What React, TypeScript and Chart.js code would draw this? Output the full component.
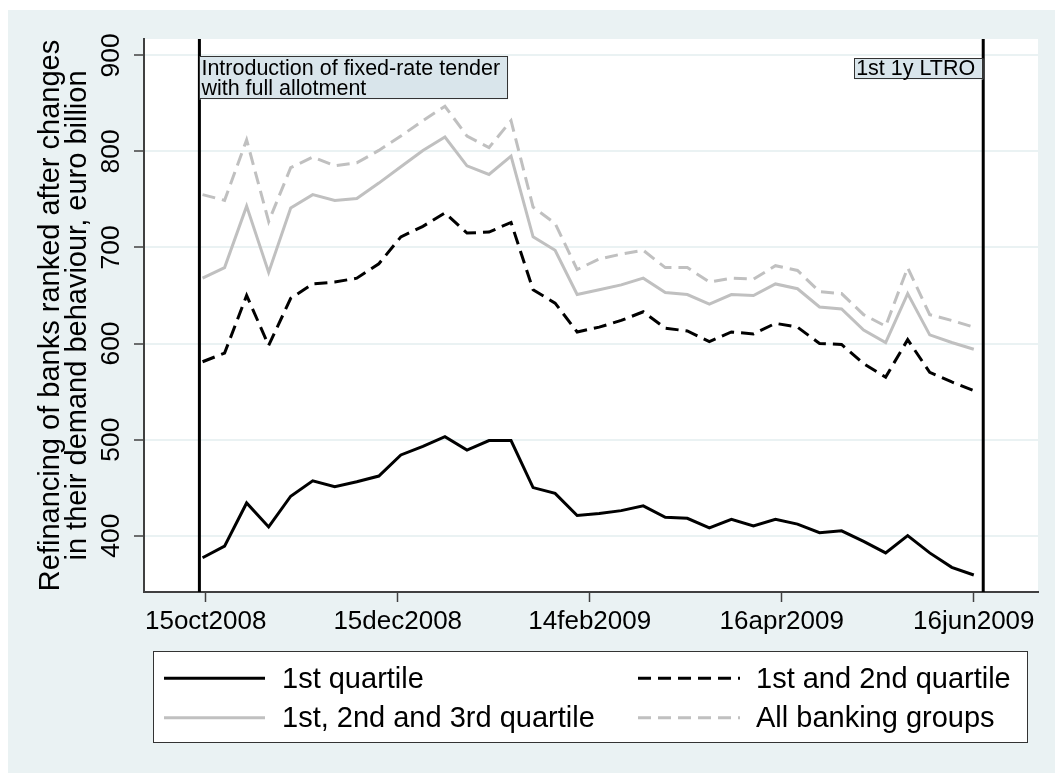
import React, { useEffect, useRef } from 'react';
import { Chart, registerables } from 'chart.js';

Chart.register(...registerables);

// ---------------- data ----------------
const DATES = [
  '2008-10-14', '2008-10-21', '2008-10-28',
  '2008-11-04', '2008-11-11', '2008-11-18', '2008-11-25',
  '2008-12-02', '2008-12-09', '2008-12-16', '2008-12-23', '2008-12-30',
  '2009-01-06', '2009-01-13', '2009-01-20', '2009-01-27',
  '2009-02-03', '2009-02-10', '2009-02-17', '2009-02-24',
  '2009-03-03', '2009-03-10', '2009-03-17', '2009-03-24', '2009-03-31',
  '2009-04-07', '2009-04-14', '2009-04-21', '2009-04-28',
  '2009-05-05', '2009-05-12', '2009-05-19', '2009-05-26',
  '2009-06-02', '2009-06-09', '2009-06-16',
];

const Q1 = [377, 389, 434, 409, 441, 457, 451, 456, 462, 484, 493, 503, 489, 499, 499, 450, 444, 421, 423, 426, 431, 419, 418, 408, 417, 410, 417, 412, 403, 405, 394, 382, 400, 382, 367, 359];
const Q12 = [581, 590, 650, 598, 647, 662, 664, 668, 683, 711, 722, 736, 715, 716, 726, 656, 642, 612, 617, 624, 633, 616, 613, 602, 612, 610, 621, 617, 600, 599, 579, 565, 604, 570, 560, 551];
const Q123 = [668, 679, 743, 674, 741, 755, 749, 751, 767, 784, 801, 815, 785, 776, 795, 711, 697, 651, 656, 661, 668, 653, 651, 641, 651, 650, 662, 657, 638, 636, 614, 601, 652, 609, 601, 594];
const ALL = [755, 749, 812, 727, 783, 794, 785, 788, 801, 816, 832, 847, 816, 804, 832, 742, 725, 677, 688, 693, 697, 679, 679, 664, 668, 667, 681, 676, 654, 652, 630, 618, 679, 630, 624, 617];

const SERIES_NAMES = ['1st quartile', '1st and 2nd quartile', '1st, 2nd and 3rd quartile', 'All banking groups'];

const X_TICK_DATES = ['2008-10-15', '2008-12-15', '2009-02-14', '2009-04-16', '2009-06-16'];
const X_TICK_LABELS = ['15oct2008', '15dec2008', '14feb2009', '16apr2009', '16jun2009'];
const Y_TICKS = [400, 500, 600, 700, 800, 900];

const EVENT_DATES = ['2008-10-13', '2009-06-19'];
const EVENT_LABELS = [['Introduction of fixed-rate tender', 'with full allotment'], ['1st 1y LTRO']];

const Y_TITLE = ['Refinancing of banks ranked after changes', 'in their demand behaviour, euro billion'];

// ---------------- helpers / styles ----------------
const FAMILY = "'Liberation Sans', Arial, Helvetica, sans-serif";
const BASE = Date.UTC(2008, 9, 15);
const dayOf = (s: string) => {
  const [y, m, d] = s.split('-').map(Number);
  return (Date.UTC(y, m - 1, d) - BASE) / 86400000;
};

const STYLES = [
  { color: '#000000', dash: [] as number[] },
  { color: '#000000', dash: [13, 7] },
  { color: '#c0c0c0', dash: [] as number[] },
  { color: '#c0c0c0', dash: [13, 7] },
];
const SERIES = [Q1, Q12, Q123, ALL];

const BG = '#eaf2f3';
const AXIS = '#404040';

const bgPlugin = {
  id: 'bgPlugin',
  beforeDraw(chart: any) {
    const { ctx, width, height, chartArea: a } = chart;
    ctx.save();
    ctx.fillStyle = '#ffffff';
    ctx.fillRect(0, 0, width, height);
    ctx.fillStyle = BG;
    ctx.fillRect(8, 10, width - 8, height - 10);
    ctx.fillStyle = '#ffffff';
    ctx.fillRect(a.left, a.top, a.right - a.left, a.bottom - a.top);
    ctx.restore();
  },
};

const eventsPlugin = {
  id: 'eventsPlugin',
  afterDatasetsDraw(chart: any) {
    const { ctx, chartArea: a, scales } = chart;
    const x = scales.x;
    const y = scales.y;
    ctx.save();
    ctx.font = `21.5px ${FAMILY}`;
    EVENT_DATES.forEach((d, i) => {
      const px = x.getPixelForValue(dayOf(d));
      ctx.setLineDash([]);
      ctx.strokeStyle = '#000';
      ctx.lineWidth = 3;
      ctx.beginPath();
      ctx.moveTo(px, a.top);
      ctx.lineTo(px, a.bottom);
      ctx.stroke();

      const lines = EVENT_LABELS[i];
      const tw = Math.max(...lines.map((l) => ctx.measureText(l).width));
      const w = tw + 10;
      const base = y.getPixelForValue(900) + 19.7;
      const topPad = lines.length > 1 ? 19 : 16.7;
      const top = base - topPad;
      const h = topPad + (lines.length - 1) * 20 + 4.3;
      const left = i === 0 ? px : px - w;
      ctx.fillStyle = '#d9e5eb';
      ctx.fillRect(left, top, w, h);
      ctx.strokeStyle = '#333';
      ctx.lineWidth = 1;
      ctx.strokeRect(Math.round(left) + 0.5, Math.round(top) + 0.5, Math.round(w) - 1, Math.round(h) - 1);
      ctx.fillStyle = '#000';
      ctx.textAlign = 'left';
      ctx.textBaseline = 'alphabetic';
      lines.forEach((l, j) => ctx.fillText(l, left + 2, base + j * 20));
    });
    ctx.restore();
  },
};

const legendPlugin = {
  id: 'legendPlugin',
  afterDraw(chart: any) {
    const { ctx } = chart;
    ctx.save();
    ctx.fillStyle = '#ffffff';
    ctx.fillRect(153, 651, 875, 92);
    ctx.strokeStyle = '#333';
    ctx.lineWidth = 1;
    ctx.strokeRect(153.5, 651.5, 874, 91);
    const cols = [
      { k0: 164, k1: 265, t: 282 },
      { k0: 638, k1: 740, t: 756 },
    ];
    const rows = [678.3, 717.7];
    ctx.font = `29px ${FAMILY}`;
    SERIES_NAMES.forEach((name, i) => {
      const c = cols[i % 2];
      const r = rows[Math.floor(i / 2)];
      ctx.strokeStyle = STYLES[i].color;
      ctx.lineWidth = 3;
      ctx.setLineDash(STYLES[i].dash);
      ctx.beginPath();
      ctx.moveTo(c.k0, r);
      ctx.lineTo(c.k1, r);
      ctx.stroke();
      ctx.setLineDash([]);
      ctx.fillStyle = '#000';
      ctx.textAlign = 'left';
      ctx.textBaseline = 'middle';
      ctx.fillText(name, c.t, r + 1.5);
    });
    ctx.restore();
  },
};

export default function App() {
  const ref = useRef<HTMLCanvasElement | null>(null);

  useEffect(() => {
    if (!ref.current) return;
    Chart.defaults.font.family = FAMILY;
    Chart.defaults.color = '#000';

    const datasets = SERIES.map((vals, i) => ({
      label: SERIES_NAMES[i],
      data: vals.map((v, j) => ({ x: dayOf(DATES[j]), y: v })),
      borderColor: STYLES[i].color,
      backgroundColor: STYLES[i].color,
      borderDash: STYLES[i].dash,
      borderWidth: 3,
      pointRadius: 0,
      tension: 0,
      fill: false,
    }));

    const chart = new Chart(ref.current, {
      type: 'line',
      data: { datasets },
      options: {
        animation: false,
        responsive: false,
        maintainAspectRatio: false,
        devicePixelRatio: 1,
        layout: { padding: { left: 0, top: 39, right: 17, bottom: 121 } },
        plugins: { legend: { display: false }, tooltip: { enabled: false }, title: { display: false } },
        scales: {
          x: {
            type: 'linear',
            min: -19.6,
            max: 264.4,
            offset: false,
            afterBuildTicks: (scale: any) => {
              scale.ticks = X_TICK_DATES.map((d) => ({ value: dayOf(d) }));
            },
            afterFit: (scale: any) => {
              scale.height = 60;
            },
            ticks: {
              autoSkip: false,
              maxRotation: 0,
              minRotation: 0,
              padding: 4,
              font: { size: 26 },
              color: '#000',
              callback: (v: any) => {
                const idx = X_TICK_DATES.findIndex((d) => Math.abs(dayOf(d) - Number(v)) < 0.01);
                return idx >= 0 ? X_TICK_LABELS[idx] : '';
              },
            },
            grid: {
              display: true,
              drawOnChartArea: false,
              drawTicks: true,
              tickLength: 10,
              tickColor: AXIS,
              tickWidth: 1.5,
            },
            border: { display: true, color: AXIS, width: 2 },
          },
          y: {
            type: 'linear',
            min: 341.3,
            max: 917,
            afterBuildTicks: (scale: any) => {
              scale.ticks = Y_TICKS.map((v) => ({ value: v }));
            },
            afterFit: (scale: any) => {
              scale.width = 144;
            },
            ticks: {
              autoSkip: false,
              minRotation: 90,
              maxRotation: 90,
              crossAlign: 'center',
              padding: 0,
              font: { size: 26.5 },
              color: '#000',
              callback: (v: any) => String(v),
            },
            grid: {
              display: true,
              drawOnChartArea: true,
              drawTicks: true,
              tickLength: 10,
              color: BG,
              lineWidth: 2,
              tickColor: AXIS,
              tickWidth: 1.5,
            },
            border: { display: true, color: AXIS, width: 2 },
            title: {
              display: true,
              text: Y_TITLE,
              font: { size: 29, lineHeight: '27px' },
              color: '#000',
              padding: { top: 37, bottom: 0 },
            },
          },
        },
      },
      plugins: [bgPlugin, eventsPlugin, legendPlugin],
    } as any);

    return () => chart.destroy();
  }, []);

  return (
    <div style={{ position: 'absolute', left: 0, top: 0, width: 1055, height: 773 }}>
      <canvas ref={ref} width={1055} height={773} style={{ display: 'block', width: 1055, height: 773 }} />
    </div>
  );
}
